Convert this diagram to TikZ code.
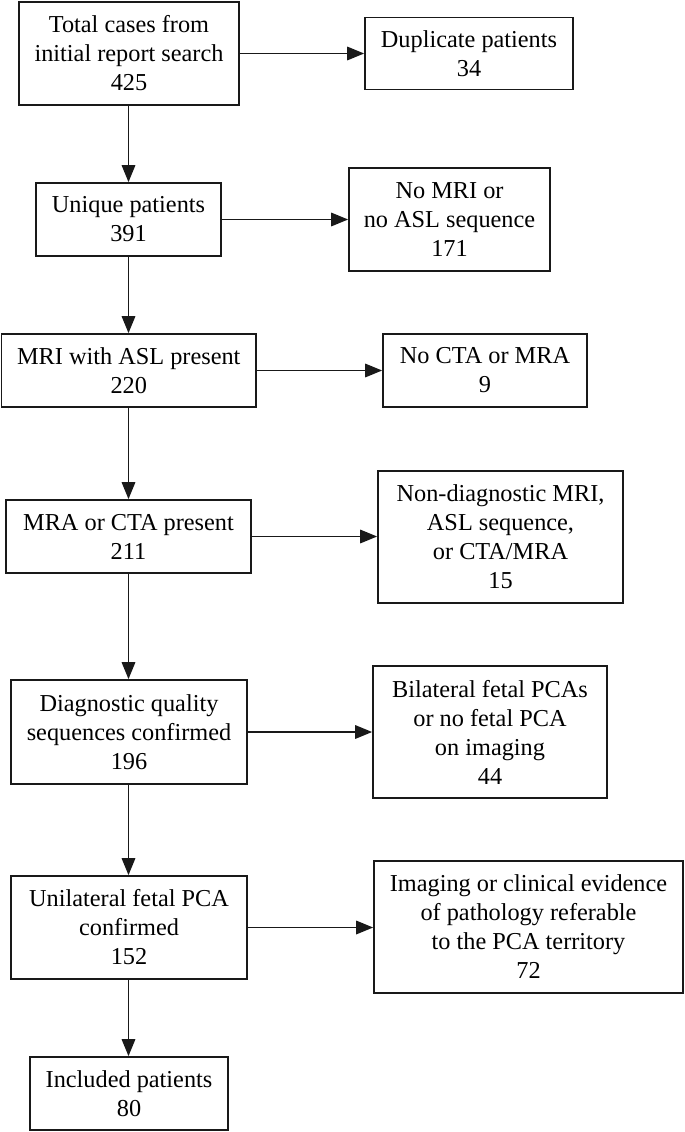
\documentclass[tikz,border=0pt]{standalone}
\usepackage{fontspec}
\setmainfont{Liberation Serif}
\usetikzlibrary{arrows.meta}
\begin{document}
\begin{tikzpicture}[x=1pt,y=-1pt,
  box/.style={draw=black!90, line width=1.7pt, align=center, inner sep=0pt,
    font=\fontsize{24.3}{29}\selectfont},
  conn/.style={draw=black!90, line width=1.7pt, -{Triangle[length=17pt,width=13.5pt]}}]
\useasboundingbox (0,0) rectangle (685,1132);
% left column
\node[box, minimum width=220pt, minimum height=103pt] (a) at (129,53.5) {Total cases from\\initial report search\\425};
\node[box, minimum width=185pt, minimum height=73pt] (b) at (128.5,219.5) {Unique patients\\391};
\node[box, minimum width=254.5pt, minimum height=73pt] (c) at (128.75,370.5) {MRI with ASL present\\220};
\node[box, minimum width=245pt, minimum height=73pt] (d) at (128.5,536.5) {MRA or CTA present\\211};
\node[box, minimum width=236pt, minimum height=104pt] (e) at (129,732) {Diagnostic quality\\sequences confirmed\\196};
\node[box, minimum width=236pt, minimum height=103pt] (f) at (129,927.5) {Unilateral fetal PCA\\confirmed\\152};
\node[box, minimum width=198pt, minimum height=73pt] (g) at (129,1093.5) {Included patients\\80};
% right column
\node[box, minimum width=208pt, minimum height=72pt] (a2) at (469,53.5) {Duplicate patients\\34};
\node[box, minimum width=201pt, minimum height=103pt] (b2) at (449.5,219.5) {No MRI or\\no ASL sequence\\171};
\node[box, minimum width=204pt, minimum height=73pt] (c2) at (485,370.5) {No CTA or MRA\\9};
\node[box, minimum width=245pt, minimum height=132pt] (d2) at (500.5,537) {Non-diagnostic MRI,\\ASL sequence,\\or CTA/MRA\\15};
\node[box, minimum width=234pt, minimum height=132pt] (e2) at (490,732) {Bilateral fetal PCAs\\or no fetal PCA\\on imaging\\44};
\node[box, minimum width=309pt, minimum height=132pt] (f2) at (528.5,927) {Imaging or clinical evidence\\of pathology referable\\to the PCA territory\\72};
% vertical connectors
\draw[conn] (a.south -| b.north) -- (b.north);
\draw[conn] (b.south) -- (c.north -| b.south);
\draw[conn] (c.south -| b.south) -- (d.north -| b.south);
\draw[conn] (d.south -| b.south) -- (e.north -| b.south);
\draw[conn] (e.south -| b.south) -- (f.north -| b.south);
\draw[conn] (f.south -| b.south) -- (g.north -| b.south);
% horizontal connectors
\draw[conn] (a.east) -- (a.east -| a2.west);
\draw[conn] (b.east) -- (b.east -| b2.west);
\draw[conn] (c.east) -- (c.east -| c2.west);
\draw[conn] (d.east) -- (d.east -| d2.west);
\draw[conn] (e.east) -- (e.east -| e2.west);
\draw[conn] (f.east) -- (f.east -| f2.west);
\end{tikzpicture}
\end{document}
